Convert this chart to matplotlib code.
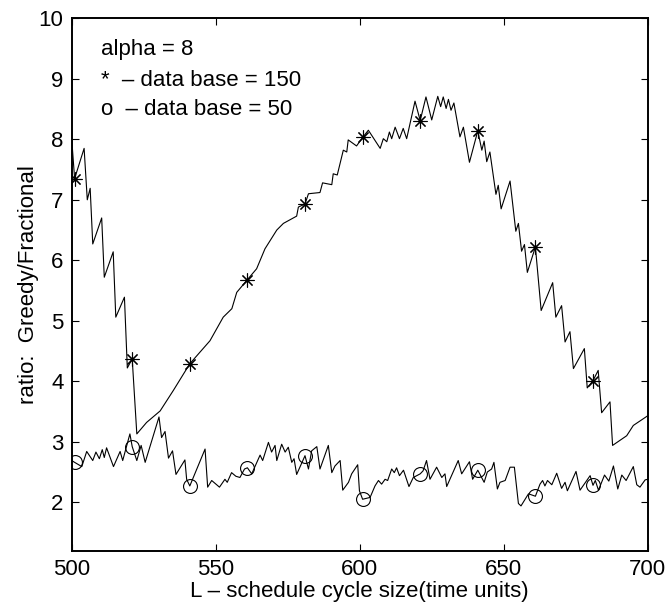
import matplotlib
matplotlib.use("Agg")
import matplotlib.pyplot as plt

# Upper curve (data base = 150), vertices
up_x = [500, 501, 504.3, 505.4, 506.4, 507.3, 510.4, 511.3, 514.4, 515.3, 518.3, 519.3,
        521, 522.6, 526, 530.7, 535.3, 541, 548, 552.6, 555.6, 557.3, 561, 564.2,
        567.1, 571.2, 573.5, 578.1, 578.7, 581, 582.2, 586.2, 587.1, 590.3, 590.8,
        592.2, 594.3, 595.5, 596, 598.9, 601, 603, 607.1, 608.2, 609.4, 610.3, 611.1,
        612.3, 613.8, 615.1, 616.3, 619.2, 621, 623, 625, 627.1, 628.1, 629, 630,
        630.8, 631.7, 632.7, 634.8, 636, 638.1, 641, 642.4, 643.2, 644.1, 645.2,
        647.3, 648.1, 649.1, 652.2, 654.2, 655.1, 656.2, 657.2, 658.2, 661, 663,
        667, 668.1, 670.1, 671.3, 673, 674.2, 678, 679, 681, 682.8, 684, 686.9,
        687.8, 692.7, 695, 700]
up_y = [8.0, 7.35, 7.85, 7.0, 7.19, 6.27, 6.7, 5.72, 6.14, 5.06, 5.39, 4.22,
        4.37, 3.13, 3.32, 3.51, 3.85, 4.29, 4.67, 5.06, 5.2, 5.47, 5.68, 5.86,
        6.19, 6.5, 6.61, 6.73, 6.88, 6.93, 7.1, 7.12, 7.28, 7.25, 7.43,
        7.41, 7.82, 7.79, 7.99, 7.89, 8.03, 8.15, 7.85, 8.01, 7.96, 8.12, 8.01,
        8.2, 8.01, 8.18, 8.01, 8.63, 8.31, 8.7, 8.32, 8.71, 8.54, 8.7, 8.51,
        8.66, 8.48, 8.6, 8.04, 8.2, 7.62, 8.14, 7.82, 7.97, 7.63, 7.79,
        7.09, 7.24, 6.85, 7.31, 6.48, 6.61, 6.15, 6.26, 5.8, 6.22, 5.17,
        5.63, 5.06, 5.25, 4.65, 4.82, 4.21, 4.54, 3.89, 4.01, 4.18, 3.48, 3.66,
        2.94, 3.1, 3.27, 3.43]

# Lower curve (data base = 50)
lo_x = [500, 501, 503.5, 505.2, 507.3, 508.4, 509.6, 510.6, 511.3, 512.1, 514.5, 516.8,
        517.7, 520.2, 521, 522.6, 524.1, 525.5, 530.3, 531.2, 532.4, 533.6, 535, 536.2,
        539.3, 539.9, 541, 546.3, 547.2, 548.6, 551.3, 553.2, 554, 555.5, 557, 558.4,
        560, 561, 562.5, 565.4, 566.3, 568.3, 569.4, 570.6, 571.2, 572.9, 574.1,
        575.2, 576.4, 577.2, 578.1, 581, 582.2, 583.3, 585.1, 586.2, 589.1, 590.3,
        591.4, 593.2, 594.1, 596.1, 597.2, 599.3, 599.9, 601, 603.6, 605.3, 606.5,
        607.6, 608.8, 609.7, 611.1, 612, 612.8, 613.8, 615.2, 617.1, 618.6, 621,
        622, 623.2, 624.4, 626.7, 628.5, 629.6, 630.2, 634.2, 635.4, 638.1, 639.2,
        641, 643.2, 644.3, 645.8, 646.6, 647.8, 648.7, 650.5, 652.2, 653.7, 655.1,
        656, 658.6, 661, 662.6, 663.5, 664.3, 665.2, 666.7, 668.4, 670.1, 671.3,
        672.1, 675.1, 676.5, 680, 681, 681.8, 682.9, 685, 686.5, 688.1, 689.6, 691,
        692.5, 695, 696.2, 697.3, 699.1, 700]
lo_y = [2.69, 2.66, 2.59, 2.84, 2.69, 2.83, 2.72, 2.87, 2.74, 2.9, 2.59, 2.84,
        2.69, 3.13, 2.92, 2.69, 2.94, 2.66, 3.41, 3.07, 3.17, 2.73, 2.85, 2.46,
        2.7, 2.38, 2.27, 2.88, 2.25, 2.36, 2.25, 2.38, 2.33, 2.49, 2.43, 2.41,
        2.55, 2.57, 2.47, 2.78, 2.69, 2.99, 2.83, 2.94, 2.69, 2.96, 2.83,
        2.91, 2.66, 2.72, 2.46, 2.77, 2.55, 2.85, 2.92, 2.55, 2.94, 2.49,
        2.6, 2.69, 2.2, 2.33, 2.47, 2.62, 2.19, 2.05, 2.08, 2.27, 2.36,
        2.3, 2.38, 2.36, 2.55, 2.49, 2.57, 2.44, 2.53, 2.26, 2.41, 2.47,
        2.52, 2.69, 2.38, 2.58, 2.41, 2.47, 2.26, 2.69, 2.47, 2.67, 2.38,
        2.53, 2.33, 2.5, 2.55, 2.66, 2.22, 2.33, 2.36, 2.58, 2.58, 1.98,
        1.94, 2.14, 2.1, 2.3, 2.36, 2.27, 2.36, 2.29, 2.48, 2.23, 2.33,
        2.19, 2.51, 2.2, 2.44, 2.28, 2.36, 2.2, 2.45, 2.35, 2.6, 2.22, 2.45,
        2.36, 2.59, 2.29, 2.25, 2.37, 2.38]

# Markers every 20 units
mk_x = [501, 521, 541, 561, 581, 601, 621, 641, 661, 681]
star_y = [7.35, 4.37, 4.29, 5.68, 6.93, 8.03, 8.3, 8.14, 6.22, 4.01]
circ_y = [2.66, 2.92, 2.27, 2.57, 2.77, 2.05, 2.47, 2.53, 2.10, 2.28]

x_ticks = [500, 550, 600, 650, 700]
y_ticks = [2, 3, 4, 5, 6, 7, 8, 9, 10]

plt.rcParams['font.family'] = ['Liberation Sans', 'DejaVu Sans']
FS = 16

fig = plt.figure(figsize=(6.71, 6.12), dpi=100)
ax = fig.add_axes([0.1069, 0.1002, 0.8584, 0.8699])

ax.plot(up_x, up_y, color='black', lw=0.8)
ax.plot(lo_x, lo_y, color='black', lw=0.8)
ax.plot(mk_x, star_y, ls='none', marker=(8, 2, 0), ms=10, mec='black', mew=0.8)
ax.plot(mk_x, circ_y, ls='none', marker='o', ms=10, mfc='none', mec='black', mew=0.8)

ax.set_xlim(500, 700)
ax.set_ylim(1.2, 10)
ax.set_xticks(x_ticks)
ax.set_yticks(y_ticks)
ax.tick_params(direction='in', length=5, width=0.8, top=True, right=True,
               labelsize=FS, pad=6)
for s in ax.spines.values():
    s.set_linewidth(1.4)

ax.text(510, 9.48, 'alpha = 8', fontsize=FS, va='center', ha='left')
ax.text(510, 8.98, '*  – data base = 150', fontsize=FS, va='center', ha='left')
ax.text(510, 8.5, 'o  – data base = 50', fontsize=FS, va='center', ha='left')

ax.set_xlabel('L – schedule cycle size(time units)', fontsize=FS, labelpad=1)
ax.set_ylabel('ratio:  Greedy/Fractional', fontsize=FS, labelpad=0)

fig.savefig('out.png', dpi=100)
